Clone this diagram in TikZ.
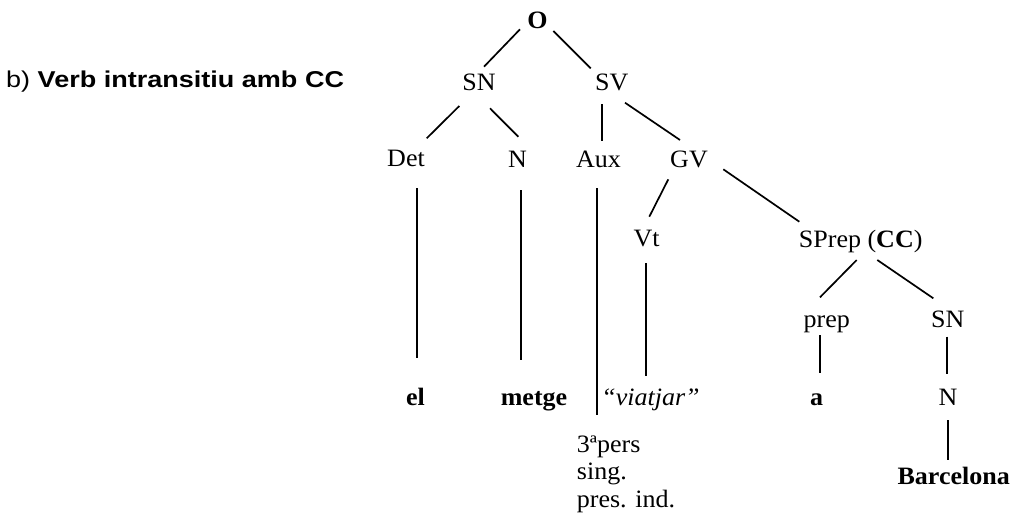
\documentclass[tikz,border=0pt]{standalone}
\usepackage{fontspec}
\setmainfont{Liberation Serif}[FakeStretch=1.04]
\newfontfamily\titlefont{Liberation Sans}[FakeStretch=1.18]
\usetikzlibrary{calc}
\tikzset{
  lbl/.style={anchor=base, inner sep=0pt, font=\fontsize{25}{27.5}\selectfont},
  lnk/.style={line width=1.7pt, line cap=butt},
}
\begin{document}
\begin{tikzpicture}[x=1pt, y=-1pt]
\useasboundingbox (0,0) rectangle (1016,519);
% title
\node[anchor=base west, inner sep=0pt, font=\titlefont\fontsize{22.9}{26}\selectfont] (title) at (6,87.7) {b) \textbf{Verb intransitiu amb CC}};
% tree nodes
\node[lbl] (O) at (537.5,28.5) {\textbf{O}};
\node[lbl] (SN1) at (479,90.7) {SN};
\node[lbl] (SV) at (611.7,90.7) {SV};
\node[lbl] (Det) at (406,166.7) {Det};
\node[lbl] (N1) at (517.5,167) {N};
\node[lbl] (Aux) at (598.5,167) {Aux};
\node[lbl] (GV) at (689,167.3) {GV};
\node[lbl] (Vt) at (646.7,246.7) {Vt};
\node[lbl] (SPrep) at (860.7,247.3) {SPrep (\textbf{CC})};
\node[lbl] (prep) at (826.7,327.3) {prep};
\node[lbl] (SN2) at (947.8,327.3) {SN};
\node[lbl] (el) at (415.5,405) {\textbf{el}};
\node[lbl] (metge) at (534,405) {\textbf{metge}};
\node[lbl] (viatjar) at (650.5,405) {\textit{“viatjar”}};
\node[lbl] (a) at (816.7,405) {\textbf{a}};
\node[lbl] (N2) at (948,405) {N};
\node[lbl] (Barcelona) at (953.7,484) {\textbf{Barcelona}};
\node[lbl, anchor=base west, align=left] (pers) at (576.7,507) {3ªpers\\sing.\\pres. ind.};
% connectors
\draw[lnk] ($(O.base)+(-17.5,0.8)$) -- ($(SN1.base)+(5,-24)$);
\draw[lnk] ($(O.base)+(15.8,2.5)$) -- ($(SV.base)+(-21,-22.4)$);
\draw[lnk] ($(SN1.base)+(-19.7,15.3)$) -- ($(Det.base)+(20.7,-28.4)$);
\draw[lnk] ($(SN1.base)+(11,17.6)$) -- ($(N1.base)+(0.8,-30.3)$);
\draw[lnk] ($(SV.base)+(-10,13.3)$) -- ($(Aux.base)+(3.2,-26.3)$);
\draw[lnk] ($(SV.base)+(13.3,12)$) -- ($(GV.base)+(-9,-27.3)$);
\draw[lnk] ($(Det.base)+(10.7,21.6)$) -- ($(el.base)+(1.2,-46.7)$);
\draw[lnk] ($(N1.base)+(3.2,23)$) -- ($(metge.base)+(-13.3,-45)$);
\draw[lnk] ($(Aux.base)+(-1.8,21.3)$) -- ($(pers.base west)+(20,-92)$);
\draw[lnk] ($(GV.base)+(-20.7,12)$) -- ($(Vt.base)+(2.6,-30)$);
\draw[lnk] ($(GV.base)+(34.3,2)$) -- ($(SPrep.base)+(-61.4,-25.6)$);
\draw[lnk] ($(Vt.base)+(-1,16.3)$) -- ($(viatjar.base)+(-4.8,-29)$);
\draw[lnk] ($(SPrep.base)+(-4,12.7)$) -- ($(prep.base)+(-6.7,-30)$);
\draw[lnk] ($(SPrep.base)+(16.6,12.7)$) -- ($(SN2.base)+(-14.5,-29)$);
\draw[lnk] ($(prep.base)+(-6.7,7.7)$) -- ($(a.base)+(3.3,-31.7)$);
\draw[lnk] ($(SN2.base)+(-1.1,9.4)$) -- ($(N2.base)+(-1.3,-30.7)$);
\draw[lnk] ($(N2.base)+(0.3,15)$) -- ($(Barcelona.base)+(-5.4,-24)$);
\end{tikzpicture}
\end{document}
